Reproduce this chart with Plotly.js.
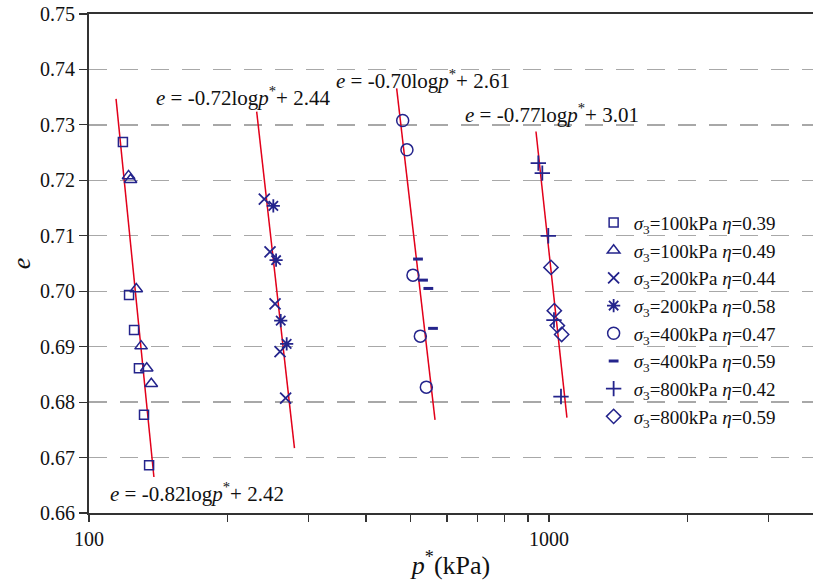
<!DOCTYPE html>
<html>
<head>
<meta charset="utf-8">
<script src="https://cdn.plot.ly/plotly-3.0.1.min.js"></script>
<style>html,body{margin:0;padding:0;background:#fff;}#chart{width:813px;height:580px;}</style>
</head>
<body>
<div id="chart"></div>
<script>
// ---- data ----
const seriesNames = [
  '<i>σ</i><sub>3</sub>=100kPa <i>η</i>=0.39',
  '<i>σ</i><sub>3</sub>=100kPa <i>η</i>=0.49',
  '<i>σ</i><sub>3</sub>=200kPa <i>η</i>=0.44',
  '<i>σ</i><sub>3</sub>=200kPa <i>η</i>=0.58',
  '<i>σ</i><sub>3</sub>=400kPa <i>η</i>=0.47',
  '<i>σ</i><sub>3</sub>=400kPa <i>η</i>=0.59',
  '<i>σ</i><sub>3</sub>=800kPa <i>η</i>=0.42',
  '<i>σ</i><sub>3</sub>=800kPa <i>η</i>=0.59'
];
const p100a = [118.5, 122.2, 125.3, 128.4, 131.7, 135.1];
const e100a = [0.7269, 0.6993, 0.6930, 0.6861, 0.6777, 0.6686];
const p100b = [121.9, 123.1, 126.7, 129.8, 133.5, 136.6];
const e100b = [0.7208, 0.7201, 0.7004, 0.6901, 0.6861, 0.6833];
const p200a = [240.5, 247.5, 253.8, 260.2, 267.6];
const e200a = [0.7166, 0.7071, 0.6977, 0.6891, 0.6807];
const p200b = [251.6, 255.1, 261.1, 269.0];
const e200b = [0.7154, 0.7056, 0.6947, 0.6905];
const p400a = [480.8, 491.2, 506.2, 525.2, 541.2];
const e400a = [0.7308, 0.7255, 0.7029, 0.6919, 0.6827];
const p400b = [519.1, 532.3, 546.7, 559.6];
const e400b = [0.7058, 0.7020, 0.7005, 0.6933];
const p800a = [948.0, 967.2, 996.6, 1025.4, 1062.0];
const e800a = [0.7231, 0.7213, 0.7100, 0.6948, 0.6810];
const p800b = [1010.0, 1027.1, 1042.5, 1065.6];
const e800b = [0.7043, 0.6965, 0.6938, 0.6922];

// fitted lines (end points)
const fit100P = [114.5, 138.4];
const fit100E = [0.7347, 0.6665];
const fit200P = [231.5, 279.7];
const fit200E = [0.7324, 0.6717];
const fit400P = [466.5, 565.3];
const fit400E = [0.7366, 0.6768];
const fit800P = [937.0, 1094.0];
const fit800E = [0.7288, 0.6772];

const fitLabels = [
  '<i>e</i> = -0.82log<i>p</i><sup>*</sup>+ 2.42',
  '<i>e</i> = -0.72log<i>p</i><sup>*</sup>+ 2.44',
  '<i>e</i> = -0.70log<i>p</i><sup>*</sup>+ 2.61',
  '<i>e</i> = -0.77log<i>p</i><sup>*</sup>+ 3.01'
];

const xTickVals = [100, 200, 300, 400, 500, 600, 700, 800, 900, 1000, 2000, 3000];
const xTickText = ['100', '', '', '', '', '', '', '', '', '1000', '', ''];

// ---- styling ----
const NAVY = '#24248c';
const RED = '#e2001a';
const FONT = 'Liberation Serif, Times New Roman, serif';

function pts(x, y, name, symbol, size, lw) {
  return {x: x, y: y, name: name, type: 'scatter', mode: 'markers',
    marker: {symbol: symbol, size: size, color: NAVY, line: {color: NAVY, width: lw || 1.5}}};
}
function fit(x, y) {
  return {x: x, y: y, type: 'scatter', mode: 'lines', showlegend: false,
    hoverinfo: 'skip', line: {color: RED, width: 1.5}};
}

const traces = [
  fit(fit100P, fit100E), fit(fit200P, fit200E), fit(fit400P, fit400E), fit(fit800P, fit800E),
  pts(p100a, e100a, seriesNames[0], 'square-open', 9),
  pts(p100b, e100b, seriesNames[1], 'triangle-up-open', 11),
  pts(p200a, e200a, seriesNames[2], 'x-thin-open', 11, 1.8),
  pts(p200b, e200b, seriesNames[3], 'asterisk-open', 11, 1.8),
  pts(p400a, e400a, seriesNames[4], 'circle-open', 12),
  pts(p400b, e400b, seriesNames[5], 'line-ew-open', 7, 3),
  pts(p800a, e800a, seriesNames[6], 'cross-thin-open', 11, 1.8),
  pts(p800b, e800b, seriesNames[7], 'diamond-open', 11)
];

function ann(text, x, y) {
  return {text: text, xref: 'paper', yref: 'paper', x: x, y: y,
    xanchor: 'left', yanchor: 'middle', showarrow: false,
    font: {family: FONT, size: 21, color: '#111'}};
}

const layout = {
  width: 813, height: 580,
  margin: {l: 89, r: 0, t: 14, b: 67},
  paper_bgcolor: '#fff', plot_bgcolor: '#fff',
  font: {family: FONT, size: 20, color: '#111'},
  showlegend: true,
  legend: {x: 0.697, y: 0.620, xanchor: 'left', yanchor: 'top',
    bgcolor: 'rgba(0,0,0,0)', font: {family: FONT, size: 19, color: '#111'},
    itemwidth: 30, tracegroupgap: 0},
  xaxis: {type: 'log', range: [2, 3.574], tickmode: 'array',
    tickvals: xTickVals, ticktext: xTickText,
    ticks: 'outside', ticklen: 7, tickwidth: 1.2, tickcolor: '#333',
    showline: true, linecolor: '#333', linewidth: 2, mirror: true,
    showgrid: false, zeroline: false,
    tickfont: {family: FONT, size: 20, color: '#111'},
    title: {text: '\u00a0\u00a0\u00a0<i>p</i><sup>*</sup>(kPa)', font: {family: FONT, size: 26, color: '#111'}, standoff: 8}},
  yaxis: {range: [0.66, 0.75], dtick: 0.01, tick0: 0.66, tickformat: '.2f',
    ticks: 'outside', ticklen: 8, tickwidth: 1.2, tickcolor: '#333',
    showline: true, linecolor: '#333', linewidth: 2,
    showgrid: true, gridcolor: '#a8a8a8', gridwidth: 1.3, griddash: '18px,13px',
    zeroline: false,
    tickfont: {family: FONT, size: 20, color: '#111'},
    title: {text: '<i>e</i>', font: {family: FONT, size: 26, color: '#111'}, standoff: 2}},
  annotations: [
    ann(fitLabels[0], 0.0262, 0.0401),
    ann(fitLabels[1], 0.0898, 0.8337),
    ann(fitLabels[2], 0.3384, 0.8697),
    ann(fitLabels[3], 0.5166, 0.8016)
  ]
};

Plotly.newPlot('chart', traces, layout, {displayModeBar: false, staticPlot: true});
</script>
</body>
</html>
